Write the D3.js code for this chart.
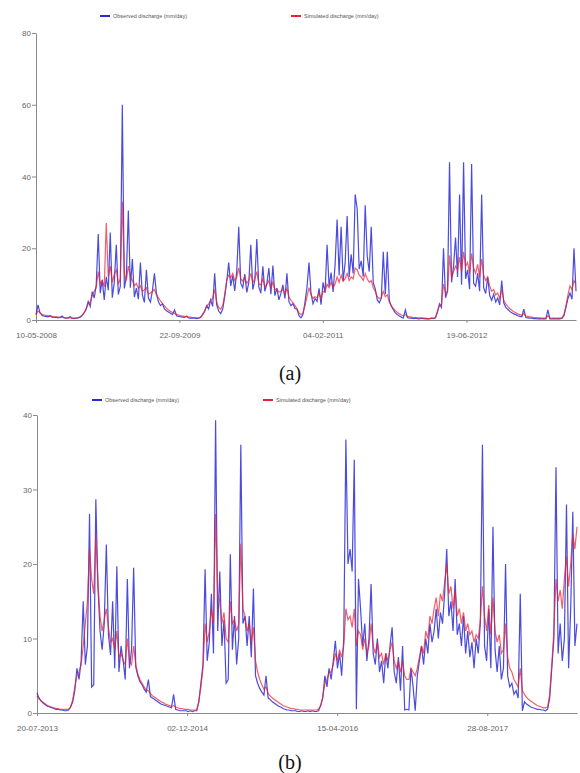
<!DOCTYPE html>
<html>
<head>
<meta charset="utf-8">
<script src="https://cdn.jsdelivr.net/npm/d3@7"></script>
<style>
    body { margin: 0; background: #fff; }
    svg text { font-family: "Liberation Sans", Arial, sans-serif; }
</style>
</head>
<body>
<div id="chart"></div>
<script>
"use strict";

// one value every 7 days, starting at startA / startB
const stepDays = 7;
const startA = "10-05-2008";
const startB = "20-07-2013";

// panel (a) observed discharge (mm/day)
const obsA = [
    1.5, 4.2, 2.0, 1.3, 1.1, 1.0, 0.9, 1.2, 0.8, 0.7,
    0.8, 0.6, 0.7, 1.1, 0.6, 0.5, 0.6, 0.9, 0.5, 0.4,
    0.5, 0.6, 0.8, 1.2, 2.1, 3.0, 5.2, 3.8, 7.9, 6.1,
    9.8, 24.0, 7.5, 11.2, 5.6, 12.0, 8.3, 24.4, 6.2, 10.5,
    21.0, 7.1, 9.4, 60.0, 8.8, 12.0, 30.5, 9.0, 17.0, 6.4,
    8.9, 5.8, 16.0, 6.9, 4.9, 14.0, 6.1, 5.0, 8.2, 13.0,
    7.4, 5.1, 4.0, 4.5, 3.1, 2.6, 2.2, 1.9, 1.5, 2.8,
    1.2, 1.0, 0.9, 0.8, 0.7, 1.1, 0.6, 0.5, 0.6, 0.5,
    0.4, 0.5, 0.7, 1.5, 2.4, 4.0, 3.1, 5.6, 3.8, 13.0,
    4.2, 2.5, 1.8, 3.0, 6.5, 10.8, 16.0, 9.5, 12.4, 8.1,
    13.5, 26.0, 10.2, 9.0, 12.8, 7.7, 10.4, 21.0, 8.5, 11.0,
    22.6, 9.2, 7.5, 15.0, 8.0, 10.1, 14.5, 7.2, 15.2, 6.8,
    8.9, 5.6, 7.4, 9.8, 6.0, 13.0, 5.1, 4.0, 4.6, 3.2,
    3.0, 1.2, 0.6, 1.5, 5.0, 9.2, 16.0, 7.4, 4.5, 6.0,
    5.2, 8.8, 4.3, 10.5, 7.6, 21.0, 9.4, 13.2, 7.8, 15.5,
    28.0, 12.5, 26.0, 10.8, 16.0, 29.0, 11.9, 18.3, 13.0, 35.0,
    31.0, 14.2, 16.5, 12.1, 32.0, 17.8, 13.5, 26.0, 10.4, 8.7,
    5.6, 4.8, 6.0, 19.0, 7.2, 19.0, 5.5, 3.8, 2.9, 2.0,
    1.5, 1.1, 0.8, 0.6, 2.8, 0.7, 0.5, 0.6, 0.4, 0.5,
    0.4, 0.3, 0.5, 0.4, 0.3, 0.4, 0.3, 0.5, 0.4, 0.6,
    2.2, 4.5, 3.5, 20.0, 6.2, 8.0, 44.0, 10.5, 15.0, 23.0,
    12.0, 35.0, 9.8, 44.0, 11.5, 14.0, 8.6, 43.5, 10.2, 9.4,
    13.0, 8.0, 35.0, 9.0, 7.4, 12.0, 6.8, 5.5, 7.2, 5.0,
    6.1, 4.2, 11.0, 4.8, 3.5, 3.0, 2.4, 2.0, 1.7, 1.5,
    1.2, 1.0, 0.9, 3.0, 0.7, 0.6, 0.5, 0.5, 0.4, 0.4,
    0.3, 0.4, 0.3, 0.4, 0.3, 2.8, 0.3, 0.3, 0.4, 0.3,
    0.4, 0.3, 0.5, 1.2, 3.5, 6.0, 7.5, 5.8, 20.0, 8.0
];

// panel (a) simulated discharge (mm/day)
const simA = [
    1.5, 2.5, 2.0, 1.6, 1.4, 1.3, 1.2, 1.1, 1.0, 0.9,
    0.9, 0.8, 0.8, 0.7, 0.7, 0.6, 0.6, 0.6, 0.5, 0.5,
    0.5, 0.6, 0.9, 1.4, 2.0, 3.2, 4.5, 5.0, 6.8, 8.0,
    9.0, 13.5, 10.0, 11.0, 9.2, 27.0, 12.0, 15.0, 10.5, 12.8,
    14.0, 10.0, 11.5, 33.0, 13.0, 11.0, 15.0, 12.2, 11.0, 9.6,
    10.2, 8.8, 9.5, 8.0, 8.4, 9.0, 7.2, 7.5, 8.0, 8.5,
    7.0, 6.2, 5.3, 4.6, 3.9, 3.3, 2.8, 2.4, 2.1, 1.8,
    1.6, 1.4, 1.2, 1.1, 1.0, 0.9, 0.8, 0.8, 0.7, 0.7,
    0.6, 0.6, 0.8, 1.5, 2.5, 3.8, 4.5, 5.5, 6.0, 8.5,
    5.0, 3.5, 3.0, 4.0, 7.0, 11.0, 12.5, 11.8, 13.0, 11.0,
    12.0, 14.5, 11.5, 10.8, 12.0, 10.2, 11.0, 13.0, 10.5, 11.5,
    13.5, 10.0, 9.8, 11.5, 9.2, 10.0, 11.0, 8.8, 10.5, 8.5,
    8.6, 7.8, 8.0, 8.5, 7.2, 8.8, 6.5, 5.5, 4.8, 4.0,
    3.2, 2.0, 1.5, 2.0, 4.0, 6.5, 9.0, 7.0, 6.0, 6.5,
    6.2, 7.5, 6.0, 8.0, 7.8, 10.0, 9.0, 10.5, 9.0, 10.0,
    12.0, 10.5, 12.5, 10.8, 11.5, 13.0, 11.0, 12.0, 11.5, 14.5,
    14.0, 12.5, 12.0, 11.0, 13.0, 11.5, 10.5, 11.0, 9.0, 8.0,
    6.5, 6.0, 6.2, 8.0, 6.5, 7.0, 5.0, 4.0, 3.2, 2.6,
    2.1, 1.7, 1.4, 1.2, 1.5, 1.0, 0.9, 0.8, 0.7, 0.7,
    0.6, 0.6, 0.5, 0.5, 0.5, 0.4, 0.4, 0.5, 0.5, 0.7,
    2.5, 4.0, 4.5, 10.0, 7.5, 8.0, 18.0, 12.0, 13.5, 15.0,
    14.0, 17.5, 13.5, 19.0, 15.0, 16.0, 13.0, 18.5, 14.5, 13.0,
    15.5, 12.0, 17.0, 12.5, 11.0, 12.0, 9.5, 8.0, 8.5, 7.0,
    7.5, 6.0, 8.5, 5.5, 4.5, 3.8, 3.2, 2.7, 2.3, 2.0,
    1.7, 1.5, 1.3, 1.8, 1.1, 1.0, 0.9, 0.8, 0.7, 0.7,
    0.6, 0.6, 0.5, 0.5, 0.5, 1.2, 0.5, 0.5, 0.5, 0.5,
    0.5, 0.5, 0.6, 1.5, 4.0, 7.0, 9.5, 8.5, 11.0, 10.0
];

// panel (b) observed discharge (mm/day)
const obsB = [
    2.7, 2.0, 1.6, 1.3, 1.1, 0.9, 0.8, 0.7, 0.6, 0.5,
    0.5, 0.4, 0.4, 0.3, 0.3, 0.4, 0.8, 1.5, 3.0, 6.0,
    4.5, 7.0, 15.0, 6.5, 9.0, 26.7, 3.5, 3.8, 28.7, 17.0,
    11.0, 8.5, 12.0, 22.6, 10.5, 7.8, 15.0, 6.0, 19.7, 5.5,
    9.0, 7.0, 4.5, 18.0, 6.0, 8.5, 19.5, 6.2, 5.0, 4.2,
    3.8, 3.2, 2.8, 4.5, 2.2, 2.0, 1.8, 1.6, 1.4, 1.2,
    1.1, 1.0, 0.9, 0.8, 0.7, 2.5, 0.5, 0.4, 0.3, 0.3,
    0.3, 0.3, 0.2, 0.3, 0.2, 0.3, 0.3, 1.5, 4.0, 6.5,
    19.3, 7.0, 9.5, 16.0, 8.0, 39.3, 11.0, 19.0, 9.0, 12.5,
    4.0, 4.5, 21.3, 8.5, 13.0, 6.5, 10.0, 36.0, 12.0, 13.0,
    9.0, 13.0, 7.5, 16.7, 5.0, 4.0, 3.3, 2.8, 2.4, 5.0,
    2.0, 1.8, 1.5, 1.3, 1.1, 0.9, 0.8, 0.6, 0.5, 0.4,
    0.4, 0.3, 0.3, 0.3, 0.2, 0.2, 0.3, 0.2, 0.2, 0.3,
    0.2, 0.3, 0.2, 0.2, 0.3, 1.0, 2.0, 5.0, 3.5, 6.0,
    4.5, 7.0, 9.7, 6.0, 8.0, 5.0, 10.0, 36.7, 20.0, 22.0,
    19.0, 34.0, 0.5, 18.0, 14.0, 9.0, 12.0, 7.0, 10.0, 17.3,
    8.0, 6.5, 10.0, 5.5, 7.0, 4.0, 8.0, 6.0, 9.0, 11.5,
    5.5, 4.0, 7.5, 3.0, 9.0, 0.4, 0.5, 0.4, 6.0, 3.5,
    0.3, 5.0, 7.0, 9.0, 6.5, 10.0, 8.0, 12.0, 9.5, 11.0,
    14.0, 10.0, 13.5, 12.0, 16.0, 22.0, 13.0, 15.0, 11.0, 18.0,
    10.5, 12.0, 9.0, 13.0, 8.0, 11.0, 7.5, 9.5, 6.0, 10.0,
    8.0, 12.0, 36.0, 9.0, 7.0, 14.0, 6.0, 25.0, 8.5, 5.5,
    9.0, 4.5, 6.0, 20.0, 5.0, 3.5, 4.0, 2.5, 3.0, 2.0,
    16.0, 0.3, 1.5, 1.2, 1.0, 0.8, 0.7, 0.6, 0.5, 0.5,
    0.4, 0.4, 0.3, 0.5, 2.0, 6.0, 10.0, 33.0, 8.0, 12.0,
    7.0, 10.0, 28.0, 6.0, 14.0, 27.0, 9.0, 12.0
];

// panel (b) simulated discharge (mm/day)
const simB = [
    2.3, 1.9, 1.6, 1.4, 1.2, 1.0, 0.9, 0.8, 0.7, 0.6,
    0.6, 0.5, 0.5, 0.5, 0.5, 0.5, 0.8, 1.8, 3.5, 5.0,
    5.5, 6.5, 9.0, 12.0, 15.0, 22.0, 18.0, 16.0, 24.0, 17.5,
    13.0, 11.0, 12.5, 14.0, 11.5, 9.5, 10.0, 8.5, 11.0, 7.5,
    8.0, 7.0, 6.5, 10.0, 7.0, 6.5, 9.0, 6.5, 5.2, 4.5,
    4.0, 3.5, 3.1, 3.0, 2.6, 2.3, 2.1, 1.9, 1.7, 1.5,
    1.4, 1.2, 1.1, 1.0, 0.9, 1.0, 0.8, 0.7, 0.6, 0.6,
    0.5, 0.5, 0.5, 0.4, 0.4, 0.4, 0.4, 1.5, 3.5, 6.0,
    12.0, 9.5, 11.0, 14.0, 12.0, 26.7, 16.0, 15.0, 12.0, 13.5,
    10.0, 9.5, 15.0, 12.0, 12.5, 11.0, 12.0, 22.7, 14.0, 13.0,
    11.0, 12.0, 9.5, 11.5, 7.0, 5.5, 4.5, 3.8, 3.2, 3.5,
    2.6, 2.3, 2.0, 1.8, 1.6, 1.4, 1.2, 1.0, 0.9, 0.8,
    0.7, 0.6, 0.6, 0.5, 0.5, 0.4, 0.4, 0.4, 0.4, 0.4,
    0.4, 0.4, 0.4, 0.4, 0.5, 1.0, 2.2, 4.0, 4.5, 5.5,
    5.5, 6.5, 8.0, 7.0, 8.5, 7.5, 9.0, 14.0, 12.5, 13.0,
    11.5, 14.0, 9.0, 11.0, 10.5, 8.5, 10.0, 8.0, 9.0, 12.0,
    9.0, 8.0, 9.5, 7.5, 8.0, 6.5, 8.0, 7.0, 8.5, 9.5,
    7.0, 6.0, 7.0, 5.5, 7.0, 5.0, 4.5, 4.5, 6.0, 5.5,
    5.0, 6.0, 7.5, 9.0, 8.0, 11.0, 10.0, 13.0, 12.0, 14.0,
    15.5, 13.0, 16.0, 15.0, 17.5, 20.0, 16.0, 17.0, 14.0, 16.5,
    13.0, 14.0, 12.0, 13.5, 11.0, 12.0, 10.5, 11.0, 9.5, 10.5,
    10.0, 12.5, 17.0, 13.0, 11.0, 14.5, 10.5, 15.5, 11.0, 9.5,
    10.5, 8.0, 8.5, 12.0, 7.5, 6.0, 5.5, 4.5, 4.0, 3.5,
    6.0, 3.0, 2.5, 2.1, 1.8, 1.6, 1.4, 1.2, 1.0, 0.9,
    0.8, 0.7, 0.7, 0.8, 2.5, 6.5, 11.0, 18.0, 15.0, 16.5,
    14.0, 18.0, 21.0, 17.0, 20.0, 24.0, 22.0, 25.0
];

// axis ticks
const xTicksA = ["10-05-2008", "22-09-2009", "04-02-2011", "19-06-2012"];
const xTicksB = ["20-07-2013", "02-12-2014", "15-04-2016", "28-08-2017"];
const yTicksA = [0, 20, 40, 60, 80];
const yTicksB = [0, 10, 20, 30, 40];
const seriesNames = ["Observed discharge (mm/day)", "Simulated discharge (mm/day)"];

const colors = { obs: "#2b2bd6", sim: "#ec2030", axis: "#8a8a8a", text: "#666" };
const parseDate = d3.utcParse("%d-%m-%Y");
const fmtDate = d3.utcFormat("%d-%m-%Y");

const svg = d3.select("#chart")
    .append("svg")
    .attr("width", 580)
    .attr("height", 773);

// panel layouts (pixels)
const panelA = { left: 36, right: 576, top: 33, bottom: 320, legendY: 16, legend: [100, 291], captionY: 380 };
const panelB = { left: 37, right: 577, top: 415, bottom: 713, legendY: 400, legend: [92, 263], captionY: 769 };

drawPanel(panelA, startA, obsA, simA, xTicksA, yTicksA, "(a)");
drawPanel(panelB, startB, obsB, simB, xTicksB, yTicksB, "(b)");

function drawPanel(p, start, obs, sim, xTicks, yTicks, caption) {
    let t0 = parseDate(start);
    let dates = obs.map((v, i) => d3.utcDay.offset(t0, i * stepDays));

    let xScale = d3.scaleUtc()
        .domain([t0, dates[dates.length - 1]])
        .range([p.left, p.right]);
    let yScale = d3.scaleLinear()
        .domain([0, d3.max(yTicks)])
        .range([p.bottom, p.top]);

    // axes
    let xAxis = d3.axisBottom(xScale)
        .tickValues(xTicks.map(parseDate))
        .tickFormat(fmtDate)
        .tickSize(3)
        .tickSizeOuter(0);
    let gx = svg.append("g")
        .attr("transform", "translate(0," + p.bottom + ")")
        .call(xAxis);

    let yAxis = d3.axisLeft(yScale)
        .tickValues(yTicks)
        .tickSize(4)
        .tickSizeOuter(0);
    let gy = svg.append("g")
        .attr("transform", "translate(" + p.left + ",0)")
        .call(yAxis);

    [gx, gy].forEach((g) => {
        g.select(".domain").attr("stroke", colors.axis);
        g.selectAll(".tick line").attr("stroke", colors.axis);
        g.selectAll(".tick text")
            .attr("fill", colors.text)
            .style("font-size", "8px");
    });
    gx.selectAll(".tick text").attr("dy", "1.5em");
    gy.selectAll(".tick text").attr("x", -5);

    // series lines, observed under simulated
    let line = (vals) => d3.line()
        .x((d, i) => xScale(dates[i]))
        .y((d) => yScale(d))(vals);

    svg.append("path")
        .attr("d", line(obs))
        .attr("fill", "none")
        .attr("stroke", colors.obs)
        .attr("stroke-width", 1.2)
        .attr("stroke-opacity", 0.85);
    svg.append("path")
        .attr("d", line(sim))
        .attr("fill", "none")
        .attr("stroke", colors.sim)
        .attr("stroke-width", 1.2)
        .attr("stroke-opacity", 0.72);

    // legend
    [colors.obs, colors.sim].forEach((c, k) => {
        let lx = p.legend[k];
        svg.append("line")
            .attr("x1", lx).attr("x2", lx + 10)
            .attr("y1", p.legendY).attr("y2", p.legendY)
            .attr("stroke", c)
            .attr("stroke-width", 2);
        svg.append("text")
            .attr("x", lx + 13)
            .attr("y", p.legendY + 2)
            .attr("fill", "#555")
            .style("font-size", "5.5px")
            .text(seriesNames[k]);
    });

    // caption under the panel
    svg.append("text")
        .attr("x", 290)
        .attr("y", p.captionY)
        .attr("text-anchor", "middle")
        .attr("fill", "#111")
        .style("font-family", "'Liberation Serif', 'Times New Roman', serif")
        .style("font-size", "20px")
        .text(caption);
}
</script>
</body>
</html>
